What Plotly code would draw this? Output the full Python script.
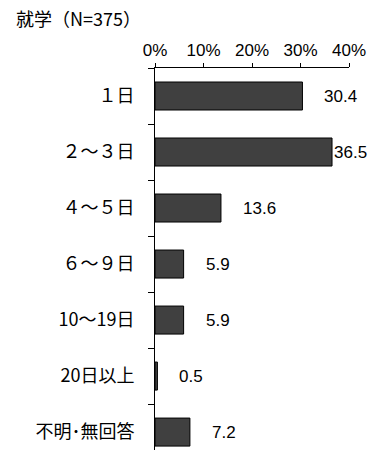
import plotly.graph_objects as go

categories = ["１日", "２～３日", "４～５日", "６～９日", "10～19日", "20日以上", "不明･無回答"]
values = [30.4, 36.5, 13.6, 5.9, 5.9, 0.5, 7.2]
x_ticks = [0, 10, 20, 30, 40]
title_text = "就学（N=375）"

FONT = "Noto Sans CJK JP"
NUMFONT = "Liberation Sans"

fig = go.Figure()
fig.add_trace(go.Bar(
    y=categories, x=values, orientation="h",
    marker=dict(color="#404040", line=dict(color="black", width=1)),
    width=0.5, hoverinfo="skip",
))

for c, v in zip(categories, values):
    fig.add_annotation(
        x=v, y=c, xref="x", yref="y", text=f"{v:.1f}", showarrow=False,
        xanchor="left", xshift=0 if v > 35 else 20,
        font=dict(family=NUMFONT, size=17, color="black"),
    )

fig.add_annotation(
    x=0, y=1, xref="paper", yref="paper", text=title_text, showarrow=False,
    xanchor="left", yanchor="bottom", xshift=-141, yshift=35,
    font=dict(family=FONT, size=18, color="black"),
)

fig.update_layout(
    width=377, height=450,
    margin=dict(l=155, r=28, t=68, b=0, pad=0),
    paper_bgcolor="white", plot_bgcolor="white",
    showlegend=False,
    font=dict(family=FONT, size=17, color="black"),
    xaxis=dict(
        side="top", range=[0, 40], tickvals=x_ticks,
        ticktext=[f"{t}%" for t in x_ticks],
        showgrid=False, zeroline=False, showline=True, linecolor="black", linewidth=1,
        ticks="outside", ticklen=4, tickcolor="black", tickwidth=1,
        tickfont=dict(family=NUMFONT, size=17, color="black"),
    ),
    yaxis=dict(
        type="category", categoryorder="array", categoryarray=categories,
        range=[6.32, -0.5], tickson="boundaries",
        showgrid=False, zeroline=False, showline=True, linecolor="black", linewidth=1,
        ticks="outside", ticklen=6, tickcolor="black", tickwidth=1,
        ticklabelstandoff=16,
        tickfont=dict(family=FONT, size=18, color="black"),
    ),
)

fig.write_html(
    "out.html",
    config={"displayModeBar": False},
    post_script="document.body.style.margin='0';document.documentElement.style.overflow='hidden';",
)
